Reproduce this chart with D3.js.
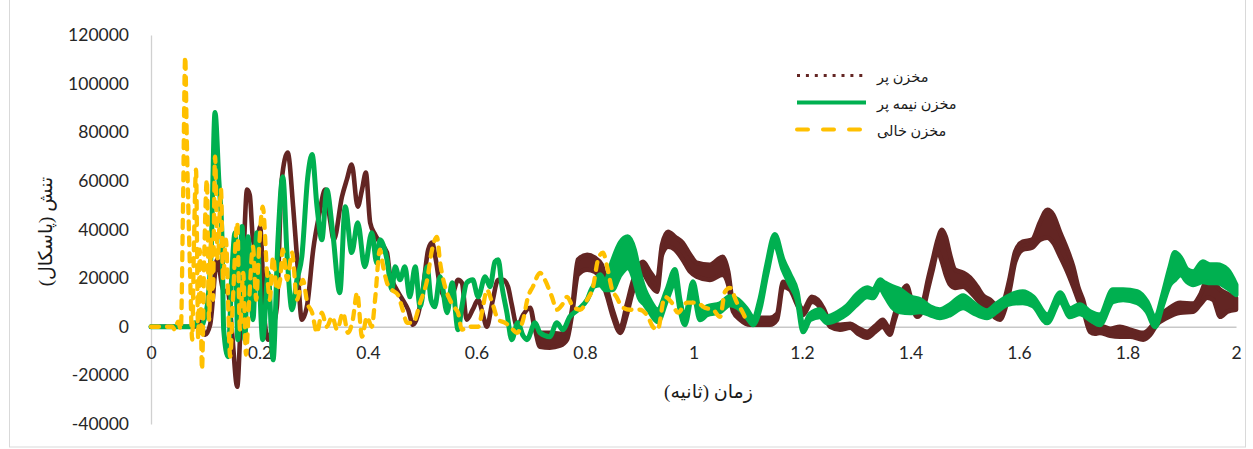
<!DOCTYPE html>
<html>
<head>
<meta charset="utf-8">
<script src="https://cdn.jsdelivr.net/npm/d3@7"></script>
<style>
  html, body { margin: 0; padding: 0; background: #ffffff; }
  svg { display: block; }
  .tick-label { font-family: Lato, "Open Sans", "Liberation Sans", sans-serif; font-size: 17.5px; fill: #262626; }
  .ar { font-family: "Times New Roman", "Liberation Serif", "DejaVu Sans", serif; fill: #1a1a1a; }
</style>
</head>
<body>
<svg id="chart" width="1253" height="449"></svg>
<script>
// Stress over time for three tank fill levels (Pa vs s)

const xTicks = [0, 0.2, 0.4, 0.6, 0.8, 1, 1.2, 1.4, 1.6, 1.8, 2];
const yTicks = [-40000, -20000, 0, 20000, 40000, 60000, 80000, 100000, 120000];

const seriesNames = ["مخزن پر", "مخزن نیمه پر", "مخزن خالی"];
const seriesColors = ["#632523", "#00b050", "#ffc000"];

// Full tank: time, lower and upper envelope of the oscillating trace
const fullTime = [0, 0.081, 0.090, 0.100, 0.109, 0.122, 0.133, 0.142, 0.149, 0.159, 0.164, 0.171, 0.177, 0.182, 0.188, 0.194, 0.201, 0.210, 0.216, 0.223, 0.232, 0.241, 0.252, 0.262, 0.269, 0.278, 0.288, 0.299, 0.310, 0.321, 0.330, 0.337, 0.352, 0.361, 0.370, 0.381, 0.389, 0.396, 0.404, 0.413, 0.422, 0.435, 0.440, 0.453, 0.464, 0.474, 0.483, 0.492, 0.501, 0.511, 0.518, 0.525, 0.533, 0.546, 0.557, 0.566, 0.573, 0.582, 0.593, 0.603, 0.612, 0.619, 0.629, 0.640, 0.649, 0.658, 0.665, 0.675, 0.686, 0.699, 0.708, 0.717, 0.735, 0.754, 0.767, 0.776, 0.787, 0.804, 0.818, 0.831, 0.841, 0.852, 0.865, 0.877, 0.888, 0.907, 0.920, 0.933, 0.942, 0.953, 0.966, 0.980, 0.994, 1.006, 1.030, 1.054, 1.064, 1.073, 1.086, 1.104, 1.122, 1.141, 1.154, 1.165, 1.178, 1.191, 1.202, 1.218, 1.229, 1.239, 1.252, 1.270, 1.289, 1.303, 1.320, 1.335, 1.349, 1.362, 1.371, 1.381, 1.393, 1.402, 1.412, 1.423, 1.432, 1.441, 1.450, 1.458, 1.465, 1.473, 1.482, 1.497, 1.510, 1.523, 1.534, 1.547, 1.556, 1.565, 1.574, 1.583, 1.593, 1.607, 1.624, 1.639, 1.652, 1.663, 1.676, 1.689, 1.700, 1.709, 1.718, 1.731, 1.740, 1.749, 1.768, 1.786, 1.805, 1.829, 1.842, 1.854, 1.873, 1.897, 1.921, 1.934, 1.947, 1.958, 1.971, 1.984, 2.000];
const fullLow = [0, 0, 2100, -3300, 800, 27600, 15200, 14000, -1200, -24700, -5300, 31700, 56400, 54300, 35800, 31700, 41200, 1600, -5300, -1200, 8200, 60500, 71600, 49400, 28800, 2900, 9100, 31700, 46100, 56400, 44000, 35800, 53500, 60500, 66700, 49400, 56400, 63400, 42800, 37900, 34600, 30500, 22200, 15200, 11100, 7000, 800, 4900, 15200, 31700, 34600, 27600, 16500, 11100, 14000, 19300, 18100, 2900, 7000, 11100, 4900, 0, 9900, 19300, 19300, 16500, 9100, 0, 4900, 7800, -1200, -8200, -8600, -7800, -5300, 4900, 21400, 23500, 22600, 19300, 12300, 3700, -2500, 4900, 14400, 21400, 17300, 14400, 29600, 32900, 31700, 27600, 22600, 20600, 19300, 21400, 17300, 6200, 2900, 800, 800, 800, 2900, 16500, 15200, 9100, 4900, 10300, 9100, 5800, 0, -1200, -400, -2900, -4500, -2100, 0, -3300, 2900, 9900, 14400, 9100, 4100, 7000, 15200, 23500, 30900, 26700, 21400, 17300, 16000, 16500, 14400, 11100, 8600, 5800, 3700, 2900, 7000, 15200, 26700, 31700, 32500, 35800, 36600, 34600, 28800, 22600, 16500, 11100, 7000, -2100, -2900, -2500, -3700, -4100, -4100, -5300, -3300, 800, 3700, 5800, 6200, 9100, 11900, 11100, 4100, 6200, 7000];
const fullHigh = [0, 0, 2100, -3300, 800, 27600, 15200, 14000, -1200, -24700, -5300, 31700, 56400, 54300, 35800, 31700, 41200, 1600, -5300, -1200, 8200, 60500, 71600, 49400, 28800, 2900, 9100, 31700, 46100, 56400, 44000, 35800, 53500, 60500, 66700, 49400, 56400, 63400, 42800, 37900, 34600, 30500, 22200, 15200, 11100, 7000, 800, 4900, 15200, 31700, 34600, 27600, 16500, 11100, 14000, 19300, 18100, 2900, 7000, 11100, 4900, 0, 9900, 19300, 19300, 16500, 9100, 0, 4900, 7800, -1200, -2500, -2500, -2900, -1200, 7000, 27600, 29600, 28400, 25500, 15200, 6200, -400, 9100, 18500, 26700, 22600, 19300, 33700, 39100, 37000, 34600, 29600, 26300, 25500, 28800, 22600, 9100, 5300, 4100, 3700, 3700, 5300, 18500, 17300, 11100, 7000, 12300, 11100, 7800, 2100, 800, 1200, -400, -2100, 400, 2900, -800, 5300, 12800, 16900, 11100, 7000, 10300, 19300, 27600, 35800, 39900, 37000, 29600, 23500, 22200, 20200, 16500, 12800, 11100, 9100, 7000, 11900, 20200, 30900, 35000, 35800, 43200, 48100, 46100, 38700, 31700, 24700, 16500, 11100, 800, 0, 400, -800, 0, -1200, -2500, -400, 3700, 7000, 9900, 9500, 13200, 19300, 18100, 15200, 13600, 11900];

// Half-full tank
const halfTime = [0, 0.072, 0.081, 0.090, 0.098, 0.105, 0.111, 0.118, 0.125, 0.131, 0.134, 0.142, 0.149, 0.155, 0.160, 0.168, 0.173, 0.179, 0.188, 0.195, 0.206, 0.216, 0.225, 0.234, 0.243, 0.251, 0.260, 0.269, 0.278, 0.289, 0.297, 0.306, 0.315, 0.324, 0.335, 0.348, 0.358, 0.370, 0.381, 0.394, 0.407, 0.416, 0.422, 0.435, 0.444, 0.450, 0.459, 0.468, 0.477, 0.487, 0.496, 0.509, 0.516, 0.523, 0.533, 0.546, 0.555, 0.566, 0.573, 0.582, 0.593, 0.603, 0.616, 0.625, 0.634, 0.640, 0.647, 0.656, 0.665, 0.676, 0.686, 0.693, 0.708, 0.717, 0.735, 0.748, 0.759, 0.772, 0.787, 0.804, 0.815, 0.828, 0.837, 0.850, 0.865, 0.879, 0.891, 0.900, 0.910, 0.919, 0.934, 0.951, 0.966, 0.975, 0.984, 0.999, 1.012, 1.025, 1.049, 1.067, 1.082, 1.099, 1.110, 1.123, 1.135, 1.150, 1.165, 1.178, 1.191, 1.202, 1.215, 1.233, 1.246, 1.265, 1.283, 1.301, 1.320, 1.331, 1.344, 1.352, 1.366, 1.381, 1.399, 1.418, 1.436, 1.454, 1.473, 1.497, 1.515, 1.541, 1.559, 1.578, 1.607, 1.626, 1.652, 1.676, 1.694, 1.712, 1.731, 1.749, 1.773, 1.792, 1.818, 1.836, 1.851, 1.865, 1.878, 1.887, 1.898, 1.910, 1.921, 1.939, 1.952, 1.965, 1.984, 2.000];
const halfLow = [0, 0, 1600, -1200, 2900, 11100, 31700, 88100, 60500, 35800, -1200, -12300, 22200, 38700, -5300, 41200, -5300, 37000, 2900, 38700, -5300, 22200, -13600, 35800, 61700, 28800, 7000, 19300, 28800, 61700, 70800, 49400, 35800, 56400, 38700, 14000, 49400, 30500, 42800, 24700, 38700, 26300, 35800, 27600, 15200, 24700, 19300, 24700, 12300, 24700, 8200, 24700, 11100, 8200, 20600, 5800, 18100, -1200, 8200, 18100, 19300, 12300, 20600, 16500, 26700, 27600, 16500, 5800, -5300, 1600, -3700, -5300, 1600, -2500, -4100, 1600, -1200, 4100, 7000, 11100, 16500, 17300, 15200, 15200, 21400, 24300, 19300, 11900, 9100, 6200, 2100, 11100, 18100, 7000, 800, 14400, 2900, 4900, 6200, 9100, 7800, 3700, 800, 7800, 21400, 33700, 23500, 17300, 11100, -2100, 2900, 4100, 1600, 2900, 5300, 9100, 12300, 11900, 16000, 13200, 8200, 6200, 5800, 6200, 4900, 3700, 4900, 7800, 5800, 3700, 6200, 9100, 9900, 8600, 1600, 10300, 4100, 5300, 2900, 800, 10300, 11100, 9900, 6200, 0, 9100, 17300, 19300, 21400, 18500, 17300, 18500, 18100, 18100, 16000, 13200];
const halfHigh = [0, 0, 1600, -1200, 2900, 11100, 31700, 88100, 60500, 35800, -1200, -12300, 22200, 38700, -5300, 41200, -5300, 37000, 2900, 38700, -5300, 22200, -13600, 35800, 61700, 28800, 7000, 19300, 28800, 61700, 70800, 49400, 35800, 56400, 38700, 14000, 49400, 30500, 42800, 24700, 38700, 26300, 35800, 27600, 15200, 24700, 19300, 24700, 12300, 24700, 8200, 24700, 11100, 8200, 20600, 5800, 18100, -1200, 8200, 18100, 19300, 12300, 20600, 16500, 26700, 27600, 16500, 5800, -5300, 1600, -3700, -5300, 1600, -2500, -4100, 1600, -1200, 4100, 7000, 11100, 16500, 21400, 18500, 26700, 34600, 37000, 31700, 22600, 15200, 11100, 7000, 15200, 23500, 11100, 3700, 18500, 6200, 8200, 9500, 12300, 11100, 7000, 3700, 11900, 25500, 37900, 27600, 21400, 14400, 400, 5300, 7000, 4100, 5800, 8600, 13200, 16000, 15200, 19300, 18100, 16500, 15200, 12300, 11100, 8200, 7000, 9100, 12800, 9900, 6600, 9500, 12300, 14400, 12300, 4900, 14000, 7400, 9100, 6200, 4900, 15200, 15200, 14400, 10300, 3700, 13200, 24300, 30500, 28400, 23500, 22600, 26700, 25500, 25500, 23500, 17300];

// Empty tank: single trace drawn dashed
const emptyTime = [0, 0.039, 0.044, 0.050, 0.055, 0.059, 0.063, 0.066, 0.072, 0.076, 0.079, 0.083, 0.087, 0.090, 0.094, 0.098, 0.103, 0.107, 0.111, 0.114, 0.118, 0.123, 0.129, 0.133, 0.138, 0.146, 0.151, 0.159, 0.164, 0.170, 0.175, 0.181, 0.188, 0.194, 0.199, 0.206, 0.214, 0.219, 0.225, 0.232, 0.238, 0.243, 0.251, 0.260, 0.269, 0.280, 0.288, 0.297, 0.306, 0.315, 0.324, 0.334, 0.343, 0.354, 0.363, 0.372, 0.380, 0.389, 0.398, 0.407, 0.413, 0.422, 0.428, 0.435, 0.444, 0.455, 0.464, 0.472, 0.483, 0.496, 0.509, 0.518, 0.527, 0.533, 0.542, 0.551, 0.560, 0.566, 0.573, 0.584, 0.603, 0.612, 0.619, 0.629, 0.640, 0.653, 0.662, 0.675, 0.686, 0.695, 0.704, 0.717, 0.726, 0.739, 0.748, 0.758, 0.767, 0.778, 0.791, 0.804, 0.815, 0.824, 0.833, 0.842, 0.850, 0.858, 0.868, 0.883, 0.901, 0.916, 0.925, 0.934, 0.947, 0.960, 0.971, 0.988, 1.006, 1.021, 1.036, 1.049, 1.058, 1.067, 1.080, 1.091, 1.099];
const emptyValue = [0, 0, -1200, 2100, -1200, 49400, 111100, 77000, 22200, -5300, 31700, 64600, -5300, 31700, -17700, 27600, 60500, 2900, 35800, 11100, 70000, 27600, 56400, 19300, 35800, -12300, 11100, 42800, -1200, 22200, -11500, 11100, 32900, 11100, 31700, 49400, 22200, 11100, 28800, 15200, 19300, 31700, 19300, 30500, 11100, 19300, 9900, 5800, -2500, 5800, 0, 4100, -1200, 5800, -2500, 2900, 14000, -4100, 4100, 0, 11100, 31700, 24700, 18100, 15200, 13200, 7000, 1600, 1600, 9900, 19300, 31700, 37000, 26300, 16500, 11100, 7800, 5800, -1200, 0, 0, 8200, 15200, 9900, 2900, 1600, 0, -2500, 2900, 12300, 16500, 22200, 19300, 12300, 7000, 9100, 12300, 8200, 7000, 11100, 16500, 27600, 30500, 23500, 15200, 12300, 8200, 7000, 7000, 4100, 0, -1200, 12300, 9900, 5800, 9900, 9900, 7800, 7000, 4100, 14400, 16000, 9900, 5800, 1600];

const svg = d3.select("#chart");

// Outer chart frame
svg.append("rect")
  .attr("x", 9.5).attr("y", -1)
  .attr("width", 1236).attr("height", 448)
  .attr("fill", "none").attr("stroke", "#d9d9d9").attr("stroke-width", 1);

const x = d3.scaleLinear().domain([0, 2]).range([151, 1236]);
const y = d3.scaleLinear().domain([-40000, 120000]).range([424, 35]);

// Vertical value axis, labels only
const yAxis = svg.append("g")
  .attr("transform", `translate(${x(0)},0)`)
  .call(d3.axisLeft(y).tickValues(yTicks).tickSize(0).tickPadding(22).tickFormat(d => String(d)));
yAxis.select(".domain").attr("stroke", "#d0d0d0").attr("stroke-width", 1.3);
yAxis.selectAll("text").attr("class", "tick-label").attr("font-size", null).attr("font-family", null);

// Horizontal time axis crossing at zero
const xAxis = svg.append("g")
  .attr("transform", `translate(0,${y(0)})`)
  .call(d3.axisBottom(x).tickValues(xTicks).tickSize(0).tickPadding(20).tickFormat(d => String(d)));
xAxis.select(".domain").attr("stroke", "#c8c8c8").attr("stroke-width", 1.6);
xAxis.selectAll("text").attr("class", "tick-label").attr("font-size", null).attr("font-family", null);

// Axis titles
svg.append("text")
  .attr("class", "ar")
  .attr("transform", `translate(52,${(y(-40000) + y(120000)) / 2 + 2}) rotate(-90)`)
  .attr("text-anchor", "middle")
  .attr("font-size", 19)
  .text("تنش (پاسکال)");

svg.append("text")
  .attr("class", "ar")
  .attr("x", (x(0) + x(2)) / 2 + 15)
  .attr("y", 398)
  .attr("text-anchor", "middle")
  .attr("font-size", 19)
  .text("زمان (ثانیه)");

const plot = svg.append("g");

function bandArea(time, low, high) {
  return d3.area()
    .x((d, i) => x(time[i]))
    .y0((d, i) => y(low[i]))
    .y1((d, i) => y(high[i]))
    .curve(d3.curveMonotoneX)(time);
}

// Full tank band
plot.append("path")
  .attr("d", bandArea(fullTime, fullLow, fullHigh))
  .attr("fill", seriesColors[0])
  .attr("stroke", seriesColors[0])
  .attr("stroke-width", 4.6)
  .attr("stroke-linejoin", "round");

// Half-full tank band
plot.append("path")
  .attr("d", bandArea(halfTime, halfLow, halfHigh))
  .attr("fill", seriesColors[1])
  .attr("stroke", seriesColors[1])
  .attr("stroke-width", 5)
  .attr("stroke-linejoin", "round");

// Empty tank dashed trace
const emptyLine = d3.line()
  .x((d, i) => x(emptyTime[i]))
  .y((d, i) => y(emptyValue[i]))
  .curve(d3.curveMonotoneX);
plot.append("path")
  .attr("d", emptyLine(emptyTime))
  .attr("fill", "none")
  .attr("stroke", seriesColors[2])
  .attr("stroke-width", 4.3)
  .attr("stroke-linecap", "round")
  .attr("stroke-dasharray", "8,8");

// Legend
const legendRows = [
  { y: 75.5, dash: "3,5.9", cap: "butt", width: 3 },
  { y: 102.5, dash: null, cap: "butt", width: 4 },
  { y: 129.5, dash: "11,15", cap: "round", width: 4 }
];
const legend = svg.append("g");
legendRows.forEach((row, i) => {
  legend.append("line")
    .attr("x1", 797).attr("x2", 866)
    .attr("y1", row.y).attr("y2", row.y)
    .attr("stroke", seriesColors[i])
    .attr("stroke-width", row.width)
    .attr("stroke-linecap", row.cap)
    .attr("stroke-dasharray", row.dash);
  legend.append("text")
    .attr("class", "ar")
    .attr("x", 877)
    .attr("y", row.y + 6)
    .attr("font-size", 14.5)
    .text(seriesNames[i]);
});
</script>
</body>
</html>
